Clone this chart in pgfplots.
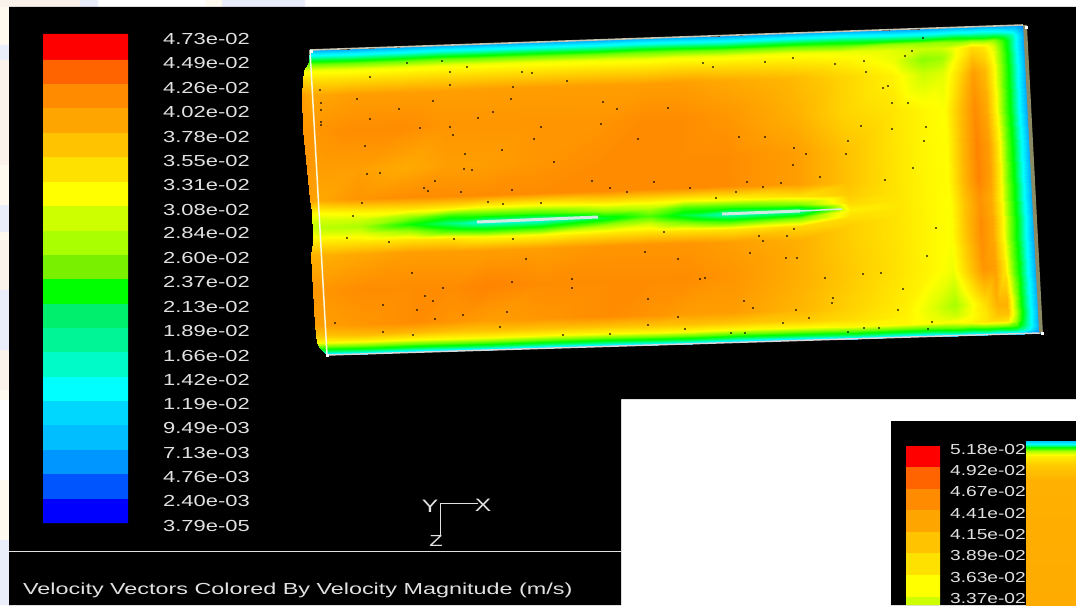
\documentclass[border=0pt]{standalone}
\usepackage{fontspec}
\usepackage{pgfplots}
\pgfplotsset{compat=1.18}
\setmainfont{Liberation Sans}
\newfontfamily\fl[FakeStretch=1.37]{Liberation Sans}
\newfontfamily\fli[FakeStretch=1.32]{Liberation Sans}
\newfontfamily\flt[FakeStretch=1.46]{Liberation Sans}
\newcommand{\pln}[3]{\addplot[draw=none,fill=#1,forget plot] coordinates {#2};}
\definecolor{b1}{RGB}{255,0,0}\definecolor{b2}{RGB}{255,100,0}\definecolor{b3}{RGB}{255,140,0}
\definecolor{b4}{RGB}{255,165,0}\definecolor{b5}{RGB}{255,195,0}\definecolor{b6}{RGB}{255,225,0}
\definecolor{b7}{RGB}{255,255,0}\definecolor{b8}{RGB}{205,255,0}\definecolor{b9}{RGB}{170,255,0}
\definecolor{b10}{RGB}{120,240,0}\definecolor{b11}{RGB}{0,255,0}\definecolor{b12}{RGB}{0,240,110}
\definecolor{b13}{RGB}{0,245,150}\definecolor{b14}{RGB}{0,250,200}\definecolor{b15}{RGB}{0,255,255}
\definecolor{b16}{RGB}{0,215,255}\definecolor{b17}{RGB}{0,190,255}\definecolor{b18}{RGB}{0,150,255}
\definecolor{b19}{RGB}{0,85,255}\definecolor{b20}{RGB}{0,0,255}
\definecolor{cream}{RGB}{254,250,240}\definecolor{pinkish}{RGB}{252,242,236}\definecolor{lav}{RGB}{234,237,250}
\definecolor{txt}{RGB}{225,225,225}\definecolor{olive}{RGB}{140,140,100}\definecolor{plate}{RGB}{205,235,225}
\definecolor{frame}{RGB}{250,248,225}
\begin{document}
\begin{tikzpicture}
\begin{axis}[
  at={(0,0)},anchor=south west,scale only axis,width=1076bp,height=605bp,
  xmin=0,xmax=1076,ymin=0,ymax=605,y dir=reverse,hide axis,
  colormap={fluent}{rgb255(0)=(0,0,255) rgb255(3)=(0,255,255) rgb255(5)=(0,255,0) rgb255(7)=(255,255,0) rgb255(10)=(255,0,0)},
  point meta min=0,point meta max=473]
% page behind the screenshots
\pln{white}{(0,0)(1076,0)(1076,605)(0,605)(0,0)}{}
\pln{cream}{(0,0)(9,0)(9,605)(0,605)(0,0)}{}
\pln{pinkish}{(0,0)(95,0)(95,7)(0,7)(0,0)}{}
\pln{lav}{(80,0)(98,0)(98,7)(80,7)(80,0)}{}
\pln{lav}{(222,0)(305,0)(305,7)(222,7)(222,0)}{}
\pln{cream}{(205,0)(222,0)(222,7)(205,7)(205,0)}{}
\pln{lav}{(0,45)(9,45)(9,60)(0,60)(0,45)}{}
\pln{pinkish}{(0,60)(9,60)(9,165)(0,165)(0,60)}{}
\pln{lav}{(0,205)(9,205)(9,232)(0,232)(0,205)}{}
\pln{pinkish}{(0,240)(9,240)(9,290)(0,290)(0,240)}{}
\pln{lav}{(0,290)(9,290)(9,350)(0,350)(0,290)}{}
\pln{pinkish}{(0,350)(9,350)(9,390)(0,390)(0,350)}{}
\pln{white}{(0,400)(9,400)(9,480)(0,480)(0,400)}{}
\pln{lav}{(0,540)(9,540)(9,605)(0,605)(0,540)}{}
% black screenshot, white gap, inset
\pln{black}{(9,7)(1076,7)(1076,399)(621,399)(621,605)(9,605)(9,7)}{}
\pln{black}{(891,421)(1076,421)(1076,605)(891,605)(891,421)}{}
% main colour bar
\pln{b1}{(43,34)(128,34)(128,60)(43,60)(43,34)}{}
\pln{b2}{(43,60)(128,60)(128,84)(43,84)(43,60)}{}
\pln{b3}{(43,84)(128,84)(128,108)(43,108)(43,84)}{}
\pln{b4}{(43,108)(128,108)(128,133)(43,133)(43,108)}{}
\pln{b5}{(43,133)(128,133)(128,157)(43,157)(43,133)}{}
\pln{b6}{(43,157)(128,157)(128,182)(43,182)(43,157)}{}
\pln{b7}{(43,182)(128,182)(128,206)(43,206)(43,182)}{}
\pln{b8}{(43,206)(128,206)(128,231)(43,231)(43,206)}{}
\pln{b9}{(43,231)(128,231)(128,255)(43,255)(43,231)}{}
\pln{b10}{(43,255)(128,255)(128,279)(43,279)(43,255)}{}
\pln{b11}{(43,279)(128,279)(128,304)(43,304)(43,279)}{}
\pln{b12}{(43,304)(128,304)(128,328)(43,328)(43,304)}{}
\pln{b13}{(43,328)(128,328)(128,352)(43,352)(43,328)}{}
\pln{b14}{(43,352)(128,352)(128,377)(43,377)(43,352)}{}
\pln{b15}{(43,377)(128,377)(128,401)(43,401)(43,377)}{}
\pln{b16}{(43,401)(128,401)(128,425)(43,425)(43,401)}{}
\pln{b17}{(43,425)(128,425)(128,450)(43,450)(43,425)}{}
\pln{b18}{(43,450)(128,450)(128,474)(43,474)(43,450)}{}
\pln{b19}{(43,474)(128,474)(128,499)(43,499)(43,474)}{}
\pln{b20}{(43,499)(128,499)(128,523)(43,523)(43,499)}{}
% inset colour bar
\pln{b1}{(906,446)(940,446)(940,467)(906,467)(906,446)}{}
\pln{b2}{(906,467)(940,467)(940,489)(906,489)(906,467)}{}
\pln{b3}{(906,489)(940,489)(940,510)(906,510)(906,489)}{}
\pln{b4}{(906,510)(940,510)(940,532)(906,532)(906,510)}{}
\pln{b5}{(906,532)(940,532)(940,553)(906,553)(906,532)}{}
\pln{b6}{(906,553)(940,553)(940,575)(906,575)(906,553)}{}
\pln{b7}{(906,575)(940,575)(940,597)(906,597)(906,575)}{}
\pln{b8}{(906,597)(940,597)(940,605)(906,605)(906,597)}{}
% velocity magnitude field, u along the duct, w across it (pixels)
\addplot[surf,shader=interp,mesh/cols=24,point meta=\thisrow{v},forget plot] table[row sep=\\,
  x expr={310+\thisrow{u}+17*\thisrow{w}/305},
  y expr={50-0.03506*\thisrow{u}+\thisrow{w}*(1+0.0000138*\thisrow{u})}] {
u w v\\
0 0 90\\0 0 90\\40 0 90\\90 0 90\\130 0 90\\165 0 90\\220 0 90\\285 0 90\\330 0 90\\365 0 90\\410 0 90\\480 0 90\\530 0 90\\580 0 90\\610 0 90\\630 0 90\\645 0 90\\660 0 90\\672 0 90\\682 0 90\\690 0 90\\697 0 90\\704 0 90\\713 0 70\\
0 3 125\\0 3 125\\40 3 125\\90 3 125\\130 3 125\\165 3 125\\220 3 125\\285 3 125\\330 3 125\\365 3 125\\410 3 125\\480 3 125\\530 3 125\\580 3 125\\610 3 125\\630 3 125\\645 3 125\\660 3 125\\672 3 125\\682 3 125\\690 3 125\\697 3 120\\704 3 110\\713 3 80\\
-1 6 150\\0 6 150\\40 6 150\\90 6 150\\130 6 150\\165 6 150\\220 6 150\\285 6 150\\330 6 150\\365 6 150\\410 6 150\\480 6 150\\530 6 150\\580 6 150\\610 6 150\\630 6 150\\645 6 150\\660 6 150\\672 6 150\\682 6 150\\690 6 150\\697 6 145\\704 6 130\\713 6 90\\
-2 10 215\\0 10 215\\40 10 215\\90 10 215\\130 10 215\\165 10 215\\220 10 215\\285 10 215\\330 10 215\\365 10 215\\410 10 215\\480 10 215\\530 10 215\\580 10 215\\610 10 215\\630 10 220\\645 10 220\\660 10 220\\672 10 220\\682 10 220\\690 10 215\\697 10 195\\704 10 145\\713 10 90\\
-3 14 275\\0 14 275\\40 14 275\\90 14 275\\130 14 275\\165 14 275\\220 14 275\\285 14 275\\330 14 275\\365 14 275\\410 14 275\\480 14 275\\530 14 275\\580 14 290\\610 14 290\\630 14 290\\645 14 290\\660 14 295\\672 14 295\\682 14 290\\690 14 260\\697 14 220\\704 14 150\\713 14 90\\
-7 20 320\\0 20 325\\40 20 325\\90 20 325\\130 20 325\\165 20 325\\220 20 325\\285 20 325\\330 20 325\\365 20 325\\410 20 325\\480 20 325\\530 20 325\\580 20 320\\610 20 312\\630 20 312\\645 20 330\\660 20 350\\672 20 345\\682 20 320\\690 20 275\\697 20 225\\704 20 150\\713 20 90\\
-9 30 355\\0 30 350\\40 30 350\\90 30 350\\130 30 350\\165 30 350\\220 30 350\\285 30 350\\330 30 350\\365 30 350\\410 30 350\\480 30 345\\530 30 340\\580 30 325\\610 30 288\\630 30 295\\645 30 335\\660 30 365\\672 30 355\\682 30 325\\690 30 275\\697 30 225\\704 30 150\\713 30 90\\
-11 45 385\\0 45 380\\40 45 385\\90 45 385\\130 45 385\\165 45 385\\220 45 385\\285 45 385\\330 45 385\\365 45 385\\410 45 380\\480 45 370\\530 45 355\\580 45 338\\610 45 312\\630 45 320\\645 45 350\\660 45 385\\672 45 370\\682 45 330\\690 45 275\\697 45 225\\704 45 150\\713 45 90\\
-11 80 390\\0 80 390\\40 80 395\\90 80 395\\130 80 390\\165 80 390\\220 80 390\\285 80 390\\330 80 395\\365 80 395\\410 80 390\\480 80 375\\530 80 355\\580 80 345\\610 80 335\\630 80 330\\645 80 365\\660 80 395\\672 80 380\\682 80 335\\690 80 275\\697 80 225\\704 80 150\\713 80 90\\
-10 120 390\\0 120 385\\40 120 385\\90 120 378\\130 120 385\\165 120 385\\220 120 390\\285 120 395\\330 120 395\\365 120 395\\410 120 395\\480 120 385\\530 120 365\\580 120 345\\610 120 335\\630 120 332\\645 120 370\\660 120 400\\672 120 385\\682 120 340\\690 120 275\\697 120 225\\704 120 150\\713 120 90\\
-8 150 385\\0 150 380\\40 150 390\\90 150 395\\130 150 395\\165 150 395\\220 150 395\\285 150 395\\330 150 395\\365 150 395\\410 150 395\\480 150 385\\530 150 365\\580 150 345\\610 150 335\\630 150 332\\645 150 370\\660 150 400\\672 150 385\\682 150 340\\690 150 275\\697 150 225\\704 150 150\\713 150 90\\
-7 162 340\\0 162 335\\40 162 340\\90 162 345\\130 162 340\\165 162 330\\220 162 330\\285 162 340\\330 162 340\\365 162 335\\410 162 335\\480 162 348\\530 162 360\\580 162 345\\610 162 335\\630 162 332\\645 162 368\\660 162 395\\672 162 380\\682 162 335\\690 162 275\\697 162 225\\704 162 150\\713 162 90\\
-7 170 320\\0 170 315\\40 170 315\\90 170 290\\130 170 250\\165 170 255\\220 170 260\\285 170 290\\330 170 300\\365 170 260\\410 170 255\\480 170 285\\530 170 352\\580 170 345\\610 170 335\\630 170 330\\645 170 365\\660 170 392\\672 170 378\\682 170 335\\690 170 275\\697 170 225\\704 170 150\\713 170 90\\
-7 177 310\\0 177 305\\40 177 300\\90 177 240\\130 177 190\\165 177 150\\220 177 150\\285 177 220\\330 177 265\\365 177 215\\410 177 160\\480 177 175\\530 177 340\\580 177 345\\610 177 335\\630 177 330\\645 177 365\\660 177 392\\672 177 378\\682 177 335\\690 177 275\\697 177 225\\704 177 150\\713 177 90\\
-7 184 325\\0 184 320\\40 184 320\\90 184 295\\130 184 255\\165 184 240\\220 184 245\\285 184 295\\330 184 310\\365 184 280\\410 184 255\\480 184 280\\530 184 350\\580 184 345\\610 184 335\\630 184 330\\645 184 365\\660 184 392\\672 184 378\\682 184 335\\690 184 275\\697 184 225\\704 184 150\\713 184 90\\
-8 192 345\\0 192 345\\40 192 345\\90 192 345\\130 192 345\\165 192 335\\220 192 335\\285 192 345\\330 192 345\\365 192 345\\410 192 345\\480 192 352\\530 192 358\\580 192 345\\610 192 335\\630 192 330\\645 192 368\\660 192 395\\672 192 380\\682 192 335\\690 192 275\\697 192 225\\704 192 150\\713 192 90\\
-10 205 375\\0 205 375\\40 205 380\\90 205 385\\130 205 385\\165 205 385\\220 205 385\\285 205 390\\330 205 390\\365 205 390\\410 205 385\\480 205 375\\530 205 358\\580 205 345\\610 205 335\\630 205 330\\645 205 365\\660 205 395\\672 205 380\\682 205 335\\690 205 275\\697 205 225\\704 205 150\\713 205 90\\
-10 240 390\\0 240 390\\40 240 395\\90 240 395\\130 240 395\\165 240 400\\220 240 395\\285 240 395\\330 240 395\\365 240 395\\410 240 390\\480 240 375\\530 240 360\\580 240 345\\610 240 335\\630 240 325\\645 240 358\\660 240 390\\672 240 385\\682 240 345\\690 240 280\\697 240 228\\704 240 150\\713 240 90\\
-10 275 385\\0 275 385\\40 275 390\\90 275 395\\130 275 390\\165 275 385\\220 275 390\\285 275 395\\330 275 390\\365 275 385\\410 275 385\\480 275 370\\530 275 355\\580 275 340\\610 275 318\\630 275 298\\645 275 325\\660 275 350\\672 275 375\\682 275 375\\690 275 305\\697 275 230\\704 275 152\\713 275 90\\
-10 285 365\\0 285 365\\40 285 370\\90 285 370\\130 285 365\\165 285 365\\220 285 365\\285 285 365\\330 285 365\\365 285 365\\410 285 365\\480 285 360\\530 285 350\\580 285 338\\610 285 322\\630 285 312\\645 285 330\\660 285 345\\672 285 365\\682 285 365\\690 285 305\\697 285 230\\704 285 150\\713 285 90\\
-9 292 340\\0 292 335\\40 292 335\\90 292 335\\130 292 335\\165 292 335\\220 292 335\\285 292 335\\330 292 335\\365 292 335\\410 292 335\\480 292 335\\530 292 335\\580 292 335\\610 292 330\\630 292 330\\645 292 335\\660 292 345\\672 292 350\\682 292 345\\690 292 295\\697 292 225\\704 292 150\\713 292 90\\
-8 297 270\\0 297 270\\40 297 270\\90 297 270\\130 297 270\\165 297 270\\220 297 270\\285 297 270\\330 297 270\\365 297 270\\410 297 270\\480 297 270\\530 297 270\\580 297 270\\610 297 270\\630 297 270\\645 297 270\\660 297 270\\672 297 280\\682 297 270\\690 297 255\\697 297 205\\704 297 145\\713 297 90\\
-4 301 200\\0 301 200\\40 301 200\\90 301 200\\130 301 200\\165 301 200\\220 301 200\\285 301 200\\330 301 200\\365 301 200\\410 301 200\\480 301 200\\530 301 200\\580 301 200\\610 301 200\\630 301 200\\645 301 200\\660 301 200\\672 301 200\\682 301 200\\690 301 190\\697 301 175\\704 301 135\\713 301 85\\
0 305 100\\0 305 100\\40 305 100\\90 305 100\\130 305 100\\165 305 100\\220 305 100\\285 305 100\\330 305 100\\365 305 100\\410 305 100\\480 305 100\\530 305 100\\580 305 100\\610 305 100\\630 305 100\\645 305 100\\660 305 100\\672 305 100\\682 305 100\\690 305 100\\697 305 100\\704 305 95\\713 305 70\\
};
% inset field
\addplot[surf,shader=interp,mesh/cols=3,point meta=\thisrow{v},forget plot] table[row sep=\\] {
x y v\\
1026 441 110\\1050 441 110\\1076 441 110\\
1026 444 140\\1050 444 140\\1076 444 140\\
1026 447 230\\1050 447 230\\1076 447 230\\
1026 451 300\\1050 451 300\\1076 451 300\\
1026 456 340\\1050 456 340\\1076 456 340\\
1026 465 360\\1050 465 360\\1076 465 360\\
1026 480 375\\1050 480 375\\1076 480 375\\
1026 605 378\\1050 605 378\\1076 605 378\\
};
% stray dark vectors
\addplot[only marks,mark=*,mark size=0.6,draw=none,fill=black!85!red,forget plot] coordinates {
(407,63)(442,61)(467,67)(450,72)(370,77)(522,72)(532,73)(567,81)(450,85)(513,87)(357,99)(433,101)(511,99)(603,102)(399,109)(493,112)(617,109)(668,108)(370,119)(478,118)(420,128)(450,127)(541,127)(601,124)(453,135)(534,139)(638,139)(365,146)(502,150)(465,154)(554,162)(464,169)(472,170)(367,174)(380,173)(592,181)(435,181)(654,182)(424,188)(428,191)(512,190)(461,192)(610,188)(627,192)(362,203)(488,202)(503,204)(541,203)(353,216)(347,238)(389,242)(454,239)(513,239)(664,232)(645,252)(678,259)(526,259)(412,273)(572,279)(512,282)(443,288)(572,288)(425,296)(433,301)(648,299)(383,305)(417,310)(507,312)(463,315)(435,319)(678,317)(335,323)(500,327)(648,325)(383,332)(413,335)(563,335)(610,334)
(320,90)(321,103)(321,110)(321,122)(321,125)
(703,63)(713,67)(765,62)(793,58)(835,64)(864,61)(866,72)(888,86)(883,88)(892,103)(908,103)(923,38)(905,56)(912,51)(861,126)(892,129)(926,127)(924,141)(848,141)(765,137)(739,137)(794,148)(806,154)(846,154)(793,165)(913,168)(820,177)(885,180)(747,182)(781,183)(763,187)(690,188)(736,192)(716,198)(794,229)(936,228)(759,236)(763,241)(787,236)(750,253)(927,256)(786,258)(797,258)(825,278)(863,274)(881,273)(700,279)(705,278)(903,289)(833,298)(832,303)(744,301)(898,310)(753,308)(796,310)(809,318)(783,323)(932,322)(685,329)(731,333)(745,333)(848,332)(864,328)(879,328)(928,329)
};
% duct outline and plates
\addplot[line width=1.6pt,color=olive!50!white,forget plot] coordinates {(310,50)(1023,25)};
\addplot[line width=1.5pt,color=frame,forget plot] coordinates {(310,50)(327,355)};
\addplot[line width=1.5pt,color=white!85!black,forget plot] coordinates {(327,355)(1040,333)};
\addplot[line width=3.8pt,color=olive,forget plot] coordinates {(1025,25)(1041,333)};
\addplot[only marks,mark=square*,mark size=1.3,color=white,forget plot] coordinates {(1026,27)(1042,333)(311,51)(327,355)};
\addplot[line width=3pt,color=plate,forget plot] coordinates {(477,222)(598,217)};
\addplot[line width=3pt,color=plate,forget plot] coordinates {(722,214)(800,211)};
\addplot[line width=1.5pt,color=plate,forget plot] coordinates {(800,211)(842,209)};
% triad and divider
\addplot[line width=1pt,color=txt,forget plot] coordinates {(9,551)(621,551)};
\addplot[line width=0.9pt,color=txt,forget plot] coordinates {(440,535)(440,503)(478,503)};
\pgfplotsextra{
\foreach \v/\y in {4.73e-02/38.5,4.49e-02/62.5,4.26e-02/87.5,4.02e-02/111.5,3.78e-02/136.5,3.55e-02/160.5,3.31e-02/184.5,3.08e-02/209.5,2.84e-02/232.5,2.60e-02/257.5,2.37e-02/281.5,2.13e-02/306.5,1.89e-02/330.5,1.66e-02/355.5,1.42e-02/379.5,1.19e-02/403.5,9.49e-03/427.5,7.13e-03/452.5,4.76e-03/476.5,2.40e-03/500.5,3.79e-05/525.5}
 \node[anchor=west,inner sep=0pt,text=txt,font=\fl\fontsize{16bp}{16bp}\selectfont] at (axis cs:163,\y) {\v};
\foreach \v/\y in {5.18e-02/449,4.92e-02/470,4.67e-02/491,4.41e-02/513,4.15e-02/534,3.89e-02/555,3.63e-02/577,3.37e-02/598}
 \node[anchor=west,inner sep=0pt,text=txt,font=\fli\fontsize{14.5bp}{14.5bp}\selectfont] at (axis cs:950,\y) {\v};
\node[anchor=west,inner sep=0pt,text=txt,font=\flt\fontsize{16bp}{16bp}\selectfont] at (axis cs:23,590) {Velocity Vectors Colored By Velocity Magnitude (m/s)};
\node[inner sep=0pt,text=txt,font=\fl\fontsize{18bp}{18bp}\selectfont] at (axis cs:430,506) {Y};
\node[inner sep=0pt,text=txt,font=\fl\fontsize{18bp}{18bp}\selectfont] at (axis cs:483,505) {X};
\node[inner sep=0pt,text=txt,font=\fl\fontsize{16bp}{16bp}\selectfont] at (axis cs:436,541) {Z};
}
\end{axis}
\end{tikzpicture}
\end{document}
